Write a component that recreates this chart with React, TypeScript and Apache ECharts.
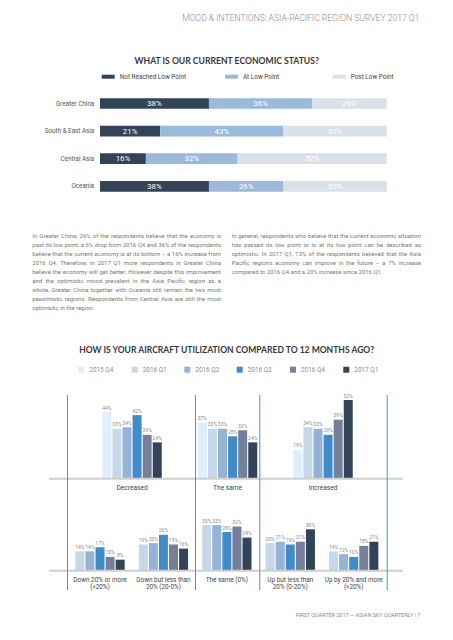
import React, { useEffect, useRef } from 'react';
import * as echarts from 'echarts';

const headerText = 'MOOD & INTENTIONS: ASIA-PACIFIC REGION SURVEY 2017 Q1';
const title1 = 'WHAT IS OUR CURRENT ECONOMIC STATUS?';
const title2 = 'HOW IS YOUR AIRCRAFT UTILIZATION COMPARED TO 12 MONTHS AGO?';
const footerText = 'FIRST QUARTER 2017 — ASIAN SKY QUARTERLY | 7';

const regions = ['Greater China', 'South & East Asia', 'Central Asia', 'Oceania'];
const statusNames = ['Not Reached Low Point', 'At Low Point', 'Post Low Point'];
const notReached = [38, 21, 16, 38];
const atLow = [36, 43, 32, 26];
const postLow = [26, 36, 52, 36];

const utilCats = ['Decreased', 'The same', 'Increased'];
const quarters = ['2015 Q4', '2016 Q1', '2016 Q2', '2016 Q3', '2016 Q4', '2017 Q1'];
const util2015Q4 = [44, 37, 19];
const util2016Q1 = [33, 33, 34];
const util2016Q2 = [34, 33, 33];
const util2016Q3 = [42, 28, 29];
const util2016Q4 = [29, 32, 39];
const util2017Q1 = [24, 24, 52];

const changeCats = [
  'Down 20% or more\n(<20%)',
  'Down but less than\n20% (20-0%)',
  'The same (0%)',
  'Up but less than\n20% (0-20%)',
  'Up by 20% and more\n(>20%)',
];
const chgQuarters = ['2016 Q1', '2016 Q2', '2016 Q3', '2016 Q4', '2017 Q1'];
const chg2016Q1 = [14, 19, 33, 20, 14];
const chg2016Q2 = [14, 20, 33, 21, 12];
const chg2016Q3 = [17, 26, 28, 19, 10];
const chg2016Q4 = [10, 19, 32, 21, 18];
const chg2017Q1 = [8, 16, 24, 30, 21];

const paraLeft = [
  'In Greater China, 26% of the respondents believe that the economy is',
  'past its low point, a 6% drop from 2016 Q4 and 36% of the respondents',
  'believe that the current economy is at its bottom – a 16% increase from',
  '2016 Q4. Therefore, in 2017 Q1 more respondents in Greater China',
  'believe the economy will get better. However despite this improvement',
  'and the optimisitc mood prevalent in the Asia Pacific region as a',
  'whole, Greater China together with Oceania still remain the two most',
  'pessimistic regions. Respondents from Central Asia are still the most',
  'optimistic in the region.',
];
const paraRight = [
  'In general, respondents who believe that the current economic situation',
  'has passed its low point or is at its low point can be described as',
  'optimistic. In 2017 Q1, 73% of the respondents believed that the Asia',
  "Pacific region's economy can improve in the future – a 7% increase",
  'compared to 2016 Q4 and a 20% increase since 2016 Q1.',
];

const statusColors = ['#344458', '#9ab9db', '#dae1e8'];
const quarterColors: Record<string, string> = {
  '2015 Q4': '#deeefa',
  '2016 Q1': '#c6d7e7',
  '2016 Q2': '#94b3d6',
  '2016 Q3': '#3e8ccc',
  '2016 Q4': '#757f9a',
  '2017 Q1': '#344458',
};

const SMALL = 'Roboto';

export default function App() {
  const ref = useRef<HTMLDivElement>(null);
  useEffect(() => {
    const el = ref.current!;
    const chart = echarts.init(el, null, { renderer: 'svg' });
    const ctx = document.createElement('canvas').getContext('2d')!;
    const mw = (t: string, size: number, fam: string, weight = 'normal') => {
      ctx.font = `${weight} ${size}px ${fam}`;
      return ctx.measureText(t).width;
    };
    const fit = (t: string, fam: string, weight: string, w: number) => (10 * w) / mw(t, 10, fam, weight);

    const txt = (text: string, x: number, y: number, size: number, fam: string, fill: string, align = 'left', weight = 'normal') => ({
      type: 'text',
      x,
      y,
      silent: true,
      style: {
        text,
        fontSize: size,
        fontFamily: fam,
        fontWeight: weight,
        fill,
        textAlign: align,
        align,
        textVerticalAlign: 'middle',
        verticalAlign: 'middle',
      },
    });

    const graphics: any[] = [];
    const hSize = fit(headerText, 'Roboto', '300', 237.6);
    graphics.push(txt(headerText, 419.3, 17.5, hSize, 'Roboto', '#8c8c8c', 'right', '300'));
    const t1Size = fit(title1, 'Lato', 'bold', 185);
    graphics.push(txt(title1, 226.7, 60.5, t1Size, 'Lato', '#383838', 'center', 'bold'));
    const t2Size = fit(title2, 'Lato', 'bold', 296.7);
    graphics.push(txt(title2, 226.7, 350.2, t2Size, 'Lato', '#383838', 'center', 'bold'));
    const fSize = fit(footerText, SMALL, 'normal', 125);
    graphics.push(txt(footerText, 295.7, 615, fSize, SMALL, '#8a8a8a', 'left'));

    // paragraphs (justified)
    const pFam = 'Roboto';
    const natural = (l: string) => mw(l, 10, pFam) / 10;
    const fitL = Math.min(...paraLeft.slice(0, -1).map((l) => 188.7 / natural(l)));
    const fitR = Math.min(...paraRight.slice(0, -1).map((l) => 189.3 / natural(l)));
    const pSize = Math.min(6.0, fitL, fitR);
    const addPara = (lines: string[], x0: number, y0: number, W: number) => {
      lines.forEach((line, i) => {
        const y = y0 + i * 9.1;
        if (i === lines.length - 1) {
          graphics.push(txt(line, x0, y, pSize, pFam, '#7a7a7a'));
          return;
        }
        const words = line.split(' ');
        const widths = words.map((w) => mw(w, pSize, pFam));
        const sum = widths.reduce((a, b) => a + b, 0);
        const gap = (W - sum) / (words.length - 1);
        let x = x0;
        words.forEach((w, j) => {
          graphics.push(txt(w, x, y, pSize, pFam, '#7a7a7a'));
          x += widths[j] + gap;
        });
      });
    };
    addPara(paraLeft, 32.3, 235, 188.7);
    addPara(paraRight, 231.7, 235, 189.3);

    // baselines
    [478.7, 570.7].forEach((y) =>
      graphics.push({ type: 'line', silent: true, z: 10, shape: { x1: 49, y1: y, x2: 403, y2: y }, style: { stroke: '#cfcfcf', lineWidth: 2 } })
    );
    // vertical separators
    [67.5, 195.5, 259.8, 387.2].forEach((x) =>
      graphics.push({ type: 'line', silent: true, z: 10, shape: { x1: x, y1: 395, x2: x, y2: 590 }, style: { stroke: '#4f98a7', lineWidth: 1 } })
    );

    const statusData = [notReached, atLow, postLow];
    const utilData = [util2015Q4, util2016Q1, util2016Q2, util2016Q3, util2016Q4, util2017Q1];
    const chgData = [chg2016Q1, chg2016Q2, chg2016Q3, chg2016Q4, chg2017Q1];

    const series: any[] = [];
    statusNames.forEach((n, i) => {
      series.push({
        name: n,
        type: 'bar',
        stack: 'status',
        xAxisIndex: 0,
        yAxisIndex: 0,
        barWidth: 10.7,
        data: statusData[i],
        itemStyle: { color: statusColors[i] },
        label: { show: true, position: 'inside', formatter: '{c}%', color: '#ffffff', fontSize: 7.8, fontFamily: SMALL },
      });
    });
    quarters.forEach((q, i) => {
      series.push({
        name: q,
        type: 'bar',
        xAxisIndex: 1,
        yAxisIndex: 1,
        barWidth: 9,
        barGap: '12%',
        data: utilData[i],
        itemStyle: { color: quarterColors[q] },
        label: { show: true, position: 'top', distance: 2, formatter: '{c}%', color: '#8a8a8a', fontSize: 5, fontFamily: SMALL },
      });
    });
    chgQuarters.forEach((q, i) => {
      series.push({
        name: q,
        type: 'bar',
        xAxisIndex: 2,
        yAxisIndex: 2,
        barWidth: 9,
        barGap: '12%',
        data: chgData[i],
        itemStyle: { color: quarterColors[q] },
        label: { show: true, position: 'top', distance: 2, formatter: '{c}%', color: '#8a8a8a', fontSize: 5, fontFamily: SMALL },
      });
    });

    const topLegendPos = [101.7, 225, 332.7];
    const qLegendPos = [78.3, 131.7, 184.3, 236.7, 290, 343.3];
    const legends: any[] = [];
    statusNames.forEach((n, i) =>
      legends.push({
        data: [n],
        left: topLegendPos[i],
        top: 73.7,
        padding: 0,
        itemWidth: 13,
        itemHeight: 4,
        icon: 'rect',
        selectedMode: false,
        textStyle: { fontSize: 6.4, color: '#444444', fontFamily: SMALL },
      })
    );
    quarters.forEach((q, i) =>
      legends.push({
        data: [q],
        left: qLegendPos[i],
        top: 366.7,
        padding: 0,
        itemWidth: 6,
        itemHeight: 6,
        icon: 'rect',
        selectedMode: false,
        textStyle: { fontSize: 6.4, color: '#8a8a8a', fontFamily: SMALL },
      })
    );

    chart.setOption({
      animation: false,
      backgroundColor: '#ffffff',
      legend: legends,
      grid: [
        { left: 100, width: 286.7, top: 89.7, height: 110.4 },
        { left: 84.3, width: 286.5, top: 387.9, height: 90.8 },
        { left: 68.3, width: 317.1, top: 515.5, height: 55.2 },
      ],
      xAxis: [
        { type: 'value', gridIndex: 0, min: 0, max: 100, show: false },
        {
          type: 'category',
          gridIndex: 1,
          data: utilCats,
          axisLine: { show: false },
          axisTick: { show: false },
          axisLabel: { margin: 5.8, fontSize: 6.6, color: '#444444', fontFamily: SMALL },
        },
        {
          type: 'category',
          gridIndex: 2,
          data: changeCats,
          axisLine: { show: false },
          axisTick: { show: false },
          axisLabel: { margin: 5.6, fontSize: 6.4, lineHeight: 7.3, color: '#444444', fontFamily: SMALL, interval: 0 },
        },
      ],
      yAxis: [
        {
          type: 'category',
          gridIndex: 0,
          data: regions,
          inverse: true,
          axisLine: { show: false },
          axisTick: { show: false },
          axisLabel: { margin: 5.7, fontSize: 6.3, color: '#555555', fontFamily: SMALL },
        },
        { type: 'value', gridIndex: 1, min: 0, max: 60, show: false },
        { type: 'value', gridIndex: 2, min: 0, max: 40, show: false },
      ],
      series,
      graphic: graphics,
    });
    return () => chart.dispose();
  }, []);
  return <div ref={ref} style={{ position: 'absolute', left: 0, top: 0, width: 453, height: 640, background: '#fff' }} />;
}
